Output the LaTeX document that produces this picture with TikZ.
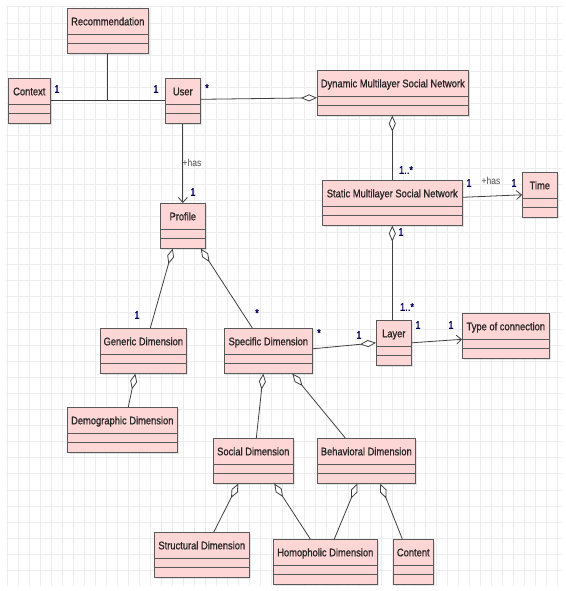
\documentclass[tikz,border=0pt]{standalone}
\usepackage{fontspec}
\setmainfont{Liberation Sans}[FakeStretch=0.85]
\newfontfamily\umlfont{Liberation Sans}[FakeStretch=0.85, FakeBold=0.9]
\usetikzlibrary{arrows.meta,shadows}

\begin{document}
\begin{tikzpicture}
  [x=1pt, y=-1pt,
   every node/.style={font=\umlfont\fontsize{11}{13}\selectfont, text=black!85},
   class/.style={draw=black!65, fill=red!16, line width=0.6pt, anchor=north west,
     inner xsep=0pt, inner ysep=0pt, text height=17pt, text depth=28pt,
     drop shadow={opacity=0.2, shadow xshift=1.5pt, shadow yshift=-1.5pt},
     path picture={\draw[black!65, line width=1pt]
       ([yshift=19pt]path picture bounding box.south west) -- ([yshift=19pt]path picture bounding box.south east)
       ([yshift=9.5pt]path picture bounding box.south west) -- ([yshift=9.5pt]path picture bounding box.south east);}},
   mult/.style={text=blue!35!black, inner sep=0pt},
   role/.style={text=black!70, inner sep=0pt, font=\fontsize{10}{12}\selectfont},
   link/.style={draw=black!75, line width=0.8pt},
   aggr/.style={link, -{Diamond[fill=white, length=16pt, width=7pt]}},
   nav/.style={link, -{Straight Barb[length=5pt, width=9pt]}},
   gridline/.style={draw=black!7, line width=1pt}]

  \fill[white] (0,0) rectangle (565,591);
  \useasboundingbox (0,0) rectangle (565,591);
  % grid
  \foreach \gx in {7,18,...,562} \draw[gridline] (\gx,6) -- (\gx,586);
  \foreach \gy in {7,23.1,...,586} \draw[gridline] (6,\gy) -- (562,\gy);

  % classes
  \node[class, minimum width=81pt] (rec) at (67,8) {Recommendation};
  \node[class, minimum width=42pt] (ctx) at (8,78) {Context};
  \node[class, minimum width=35pt] (user) at (165,78) {User};
  \node[class, minimum width=151pt] (dyn) at (317,70) {Dynamic Multilayer Social Network};
  \node[class, minimum width=140pt] (stat) at (322,180) {Static Multilayer Social Network};
  \node[class, minimum width=35pt] (time) at (522,172) {Time};
  \node[class, minimum width=45pt] (profile) at (160,203) {Profile};
  \node[class, minimum width=86pt] (gen) at (100,328) {Generic Dimension};
  \node[class, minimum width=88pt] (spec) at (224,328) {Specific Dimension};
  \node[class, minimum width=35pt] (layer) at (376,320) {Layer};
  \node[class, minimum width=87pt] (toc) at (462,313) {Type of connection};
  \node[class, minimum width=110pt] (demo) at (67,407) {Demographic Dimension};
  \node[class, minimum width=80pt] (social) at (213,438) {Social Dimension};
  \node[class, minimum width=98pt] (behav) at (317,438) {Behavioral Dimension};
  \node[class, minimum width=95pt] (struct) at (154,532) {Structural Dimension};
  \node[class, minimum width=104pt] (homo) at (273,539) {Homopholic Dimension};
  \node[class, minimum width=40pt] (content) at (393,539) {Content};

  % associations
  \draw[link] (ctx.east) -- (user.west);
  \draw[link] (rec.south) -- (rec.south |- ctx.east);
  \draw[aggr] ([yshift=1.5pt]user.east) -- ([yshift=-5pt]dyn.west);
  \draw[aggr] (stat.north) -- (stat.north |- dyn.south);
  \draw[nav] ([yshift=5.5pt]stat.east) -- (time.west);
  \draw[aggr] (stat.south |- layer.north) -- (stat.south);
  \draw[aggr] ([yshift=2pt]spec.east) -- (layer.west);
  \draw[nav] (layer.east) -- ([yshift=-3.5pt]toc.west);
  \draw[nav] (user.south) -- (profile.north);
  \draw[aggr] ([xshift=7pt]gen.north) -- ([xshift=-10pt]profile.south);
  \draw[aggr] ([xshift=-16pt]spec.north) -- ([xshift=18pt]profile.south);
  \draw[aggr] ([xshift=6pt]demo.north) -- ([xshift=-8pt]gen.south);
  \draw[aggr] ([xshift=3pt]social.north) -- ([xshift=-5pt]spec.south);
  \draw[aggr] ([xshift=-21pt]behav.north) -- ([xshift=24pt]spec.south);
  \draw[aggr] ([xshift=12pt]struct.north) -- ([xshift=-15pt]social.south);
  \draw[aggr] ([xshift=-15pt]homo.north) -- ([xshift=21pt]social.south);
  \draw[aggr] ([xshift=9pt]homo.north) -- ([xshift=-9pt]behav.south);
  \draw[aggr] ([xshift=-11pt]content.north) -- ([xshift=14pt]behav.south);

  % multiplicities and roles
  \node[mult] (m-ctx) at (57,89) {1};
  \node[mult] (m-user) at (156,89) {1};
  \node[mult] (m-dyn) at (207,88) {*};
  \node[role] (r-has) at (192,163) {+has};
  \node[mult] (m-profile) at (193,192) {1};
  \node[mult] (m-stat) at (406,170) {1..*};
  \node[mult] (m-time1) at (469,183) {1};
  \node[role] (r-time) at (491,181) {+has};
  \node[mult] (m-time2) at (514,183) {1};
  \node[mult] (m-stat2) at (401,232) {1};
  \node[mult] (m-layer) at (407,307) {1..*};
  \node[mult] (m-layer2) at (418,325) {1};
  \node[mult] (m-toc) at (451,325) {1};
  \node[mult] (m-spec) at (319,333) {*};
  \node[mult] (m-layer3) at (359,335) {1};
  \node[mult] (m-gen) at (137,315) {1};
  \node[mult] (m-spec2) at (257,313) {*};
\end{tikzpicture}
\end{document}
